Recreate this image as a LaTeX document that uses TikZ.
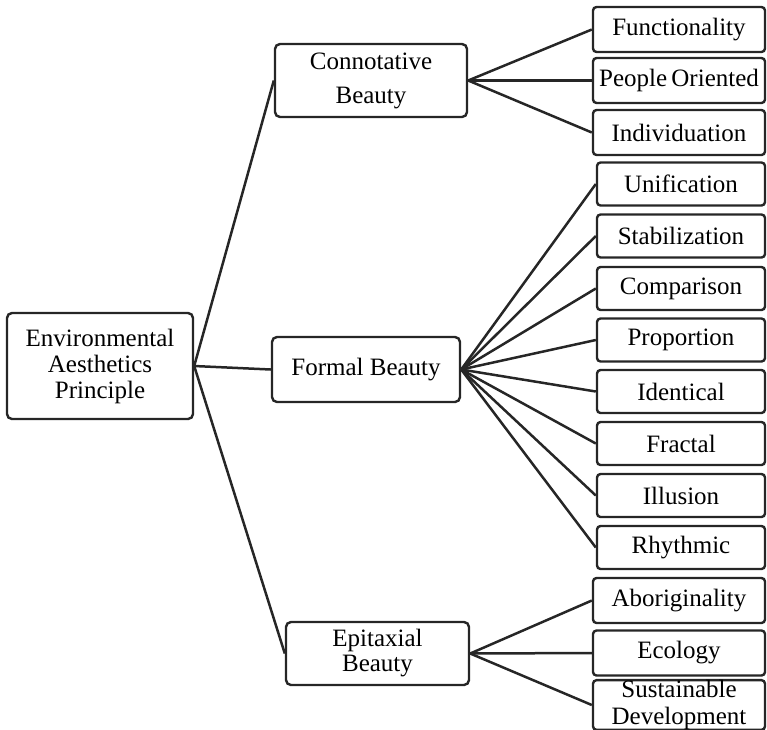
\documentclass[tikz,border=0pt]{standalone}
\usepackage{fontspec}
\setmainfont{Liberation Serif}
\begin{document}
\begin{tikzpicture}[x=1pt,y=-1pt,
  box/.style={draw=black!85, line width=2.4pt, rounded corners=5pt, inner sep=0pt,
    align=center, font=\fontsize{25}{26}\selectfont, text=black},
  leaf/.style={box, rounded corners=3.5pt, minimum width=172pt, minimum height=45pt},
  fleaf/.style={leaf, minimum width=168pt, minimum height=43pt},
  link/.style={draw=black!85, line width=2.5pt}]
\useasboundingbox (0,0) rectangle (767,729);

% principle and the three kinds of beauty
\node[box, minimum width=186pt, minimum height=106pt] (root) at (100,366) {Environmental\\Aesthetics\\Principle};
\node[box, minimum width=192pt, minimum height=73pt, font=\fontsize{25}{34}\selectfont] (conn) at (371,80.5) {Connotative\\Beauty};
\node[box, minimum width=188pt, minimum height=65pt] (formal) at (366,369.5) {Formal Beauty};
\node[box, minimum width=183pt, minimum height=63pt, font=\fontsize{25}{25}\selectfont] (epi) at (377.5,653.5) {Epitaxial\\Beauty};

% connotative beauty
\node[leaf] (c1) at (679,29.5) {Functionality};
\node[leaf] (c2) at (679,80.5) {People\hspace{-2pt} Oriented};
\node[leaf] (c3) at (679,132.5) {Individuation};

% formal beauty
\node[fleaf] (f1) at (681,184) {Unification};
\node[fleaf] (f2) at (681,236) {Stabilization};
\node[fleaf] (f3) at (681,288.5) {Comparison};
\node[fleaf] (f4) at (681,340) {Proportion};
\node[fleaf] (f5) at (681,391.5) {Identical};
\node[fleaf] (f6) at (681,443.5) {Fractal};
\node[fleaf] (f7) at (681,495.5) {Illusion};
\node[fleaf] (f8) at (681,547.5) {Rhythmic};

% epitaxial beauty
\node[leaf] (e1) at (679,600.5) {Aboriginality};
\node[leaf] (e2) at (679,653) {Ecology};
\node[leaf, minimum height=46pt, font=\fontsize{25}{27}\selectfont] (e3) at (679,705) {Sustainable\\Development};

% connectors
\foreach \t in {conn,formal,epi} \draw[link] (root.east) -- (\t.west);
\foreach \t in {c1,c2,c3} \draw[link] (conn.east) -- (\t.west);
\foreach \t in {f1,f2,f3,f4,f5,f6,f7,f8} \draw[link] (formal.east) -- (\t.west);
\foreach \t in {e1,e2,e3} \draw[link] (epi.east) -- (\t.west);
\end{tikzpicture}
\end{document}
